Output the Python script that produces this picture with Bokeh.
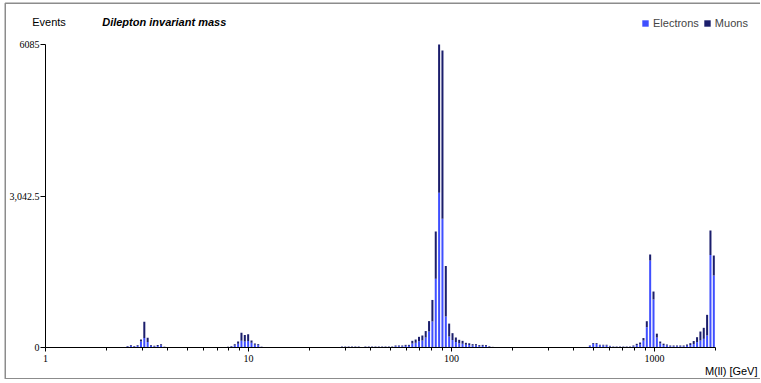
import numpy as np
from bokeh.plotting import figure
from bokeh.models import (Range1d, FixedTicker, Legend, LegendItem, Label,
                          LabelSet, BoxAnnotation, ColumnDataSource)
from bokeh.embed import file_html
from bokeh.resources import INLINE

# ---- histogram binning: 200 log-spaced bins between 1 and 2000 GeV ----
n_bins = 200
mass_min = 1.0
mass_max = 2000.0
events_max = 6085

# ---- data (events per bin, by cluster) ----
jpsi_start = 24
jpsi_electrons = [20, 30, 20, 30, 120, 190, 110, 30, 22, 30, 40, 12]
jpsi_muons = [10, 17, 10, 17, 40, 325, 85, 17, 13, 20, 27, 5]

upsilon_start = 54
upsilon_electrons = [12, 20, 40, 75, 135, 120, 130, 95, 55, 45, 12]
upsilon_muons = [5, 10, 23, 45, 160, 130, 134, 45, 25, 22, 5]

z_start = 88
z_electrons = [12, 12, 12, 12, 12, 12, 0, 12, 12, 12, 12, 12, 12, 12, 12, 12,
               25, 25, 25, 33, 33, 80, 95, 125, 140, 200, 321, 522, 1380,
               3110, 2585, 623, 221, 150, 110, 85, 75, 55, 50, 40, 40, 28,
               32, 28, 17, 8]
z_muons = [8, 8, 8, 8, 8, 8, 0, 8, 8, 8, 8, 8, 8, 8, 8, 8,
           15, 15, 15, 20, 20, 54, 65, 89, 101, 130, 209, 433, 950,
           2975, 3377, 1014, 259, 138, 91, 69, 59, 39, 35, 27, 27, 19,
           21, 19, 10, 5]

high_start = 162
high_electrons = [30, 70, 70, 40, 40, 40, 23, 13, 13, 13, 13, 13, 13, 25, 45,
                  60, 140, 408, 1747, 964, 200, 80, 50, 40, 25, 25, 25, 25,
                  25, 35, 50, 70, 107, 140, 174, 241, 1860, 1446]
high_muons = [10, 17, 17, 15, 15, 15, 10, 7, 7, 7, 7, 7, 7, 15, 29,
              40, 50, 120, 119, 160, 78, 40, 27, 20, 15, 15, 15, 15,
              15, 25, 37, 60, 100, 181, 221, 415, 490, 401]

x_major_ticks = [1, 10, 100, 1000]
x_tick_labels = ["1", "10", "100", "1000"]
x_minor_ticks = [2, 3, 4, 5, 6, 7, 8, 9, 20, 30, 40, 50, 60, 70, 80, 90,
                 200, 300, 400, 500, 600, 700, 800, 900, 2000]
y_ticks = [0, 3042.5, 6085]
y_tick_labels = ["0", "3,042.5", "6085"]

ELECTRON_COLOR = "#3f4fff"
MUON_COLOR = "#1b1e6c"
FONT = "Liberation Sans"
FRAME_GRAY = "#8c8c8c"

# ---- build the full histogram arrays ----
electrons = np.zeros(n_bins)
muons = np.zeros(n_bins)
for start, e_vals, m_vals in [(jpsi_start, jpsi_electrons, jpsi_muons),
                              (upsilon_start, upsilon_electrons, upsilon_muons),
                              (z_start, z_electrons, z_muons),
                              (high_start, high_electrons, high_muons)]:
    electrons[start:start + len(e_vals)] = e_vals
    muons[start:start + len(m_vals)] = m_vals

log_edges = np.linspace(np.log10(mass_min), np.log10(mass_max), n_bins + 1)
step = log_edges[1] - log_edges[0]
left = 10 ** (log_edges[:-1] + 0.2 * step)
right = 10 ** (log_edges[1:] - 0.2 * step)

mask = (electrons + muons) > 0
src = ColumnDataSource(dict(
    left=left[mask], right=right[mask],
    e_top=electrons[mask],
    m_bottom=electrons[mask],
    m_top=(electrons + muons)[mask],
))

# The plot area covers the whole canvas.  The two axes are pinned at
# M = 1 GeV and Events = 0 (ticks pointing left / down), bounded to the data.
p = figure(width=760, height=379, x_axis_type="log",
           x_axis_location="above", y_axis_location="right",
           x_range=Range1d(0.6003, 3333), y_range=Range1d(-642.6, 6968.6),
           output_backend="svg", toolbar_location=None,
           min_border_left=0, min_border_right=0,
           min_border_top=0, min_border_bottom=0)
p.styles = {"vertical-align": "top"}
p.outline_line_color = None
p.grid.visible = False
p.background_fill_color = "white"
p.border_fill_color = "white"

r_e = p.quad(left="left", right="right", bottom=0, top="e_top", source=src,
             fill_color=ELECTRON_COLOR, line_color=None)
r_m = p.quad(left="left", right="right", bottom="m_bottom", top="m_top",
             source=src, fill_color=MUON_COLOR, line_color=None)

# x axis (line and ticks); its labels are drawn with a LabelSet
xa = p.xaxis[0]
xa.fixed_location = 0
xa.bounds = (mass_min, mass_max)
xa.ticker = FixedTicker(ticks=x_major_ticks, minor_ticks=x_minor_ticks)
xa.major_tick_out = 0
xa.major_tick_in = 4
xa.minor_tick_out = 0
xa.minor_tick_in = 3
xa.major_label_text_color = None
xa.major_label_text_font_size = "0px"
xa.major_label_standoff = 0
xa.axis_line_color = "black"
xa.major_tick_line_color = "black"
xa.minor_tick_line_color = "black"

# y axis (line and ticks)
ya = p.yaxis[0]
ya.fixed_location = mass_min
ya.bounds = (0, events_max)
ya.ticker = FixedTicker(ticks=y_ticks, minor_ticks=[])
ya.major_tick_out = 0
ya.major_tick_in = 5
ya.minor_tick_out = 0
ya.minor_tick_in = 0
ya.major_label_text_color = None
ya.major_label_text_font_size = "0px"
ya.major_label_standoff = 0
ya.axis_line_color = "black"
ya.major_tick_line_color = "black"

# tick labels
x_lab_src = ColumnDataSource(dict(x=x_major_ticks, y=[0] * len(x_major_ticks),
                                  text=x_tick_labels))
p.add_layout(LabelSet(x="x", y="y", text="text", source=x_lab_src,
                      y_offset=-7, text_align="center", text_baseline="top",
                      text_font=FONT, text_font_size="10px",
                      text_color="black"))
y_lab_src = ColumnDataSource(dict(x=[mass_min] * len(y_ticks), y=y_ticks,
                                  text=y_tick_labels))
p.add_layout(LabelSet(x="x", y="y", text="text", source=y_lab_src,
                      x_offset=-6, text_align="right", text_baseline="middle",
                      text_font=FONT, text_font_size="10px",
                      text_color="black"))

# series legend
legend = Legend(items=[LegendItem(label="Electrons", renderers=[r_e]),
                       LegendItem(label="Muons", renderers=[r_m])],
                orientation="horizontal", location=(641, 350),
                border_line_color=None, background_fill_alpha=0,
                padding=0, margin=0, spacing=4,
                glyph_width=8, glyph_height=8, label_standoff=4,
                label_height=11, label_width=10,
                label_text_font=FONT, label_text_font_size="11px")
p.add_layout(legend)

# texts
p.add_layout(Label(x=31.7, y=357.5, x_units="screen", y_units="screen",
                   text="Events", text_baseline="middle",
                   text_font=FONT, text_font_size="11px", text_color="black"))
p.add_layout(Label(x=101.7, y=357.5, x_units="screen", y_units="screen",
                   text="Dilepton invariant mass", text_baseline="middle",
                   text_font=FONT, text_font_size="11px",
                   text_font_style="bold italic", text_color="black"))
p.add_layout(Label(x=757, y=9, x_units="screen", y_units="screen",
                   text="M(ll) [GeV]", text_baseline="middle", text_align="right",
                   text_font=FONT, text_font_size="11px", text_color="black"))

# grey frame round the chart (its right side lies beyond the picture)
p.add_layout(BoxAnnotation(left=4.75, right=800, bottom=0.75, top=376.25,
                           left_units="screen", right_units="screen",
                           bottom_units="screen", top_units="screen",
                           fill_color=None, fill_alpha=0,
                           line_color=FRAME_GRAY, line_width=1.5, line_alpha=1))

open("out.html", "w").write(file_html(p, INLINE))
